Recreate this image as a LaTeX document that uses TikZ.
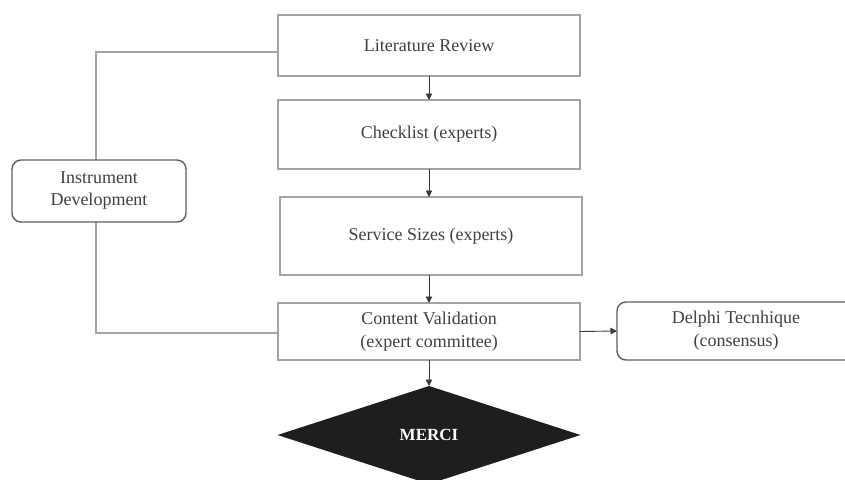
\documentclass[tikz,border=0pt]{standalone}
\usepackage{fontspec}
\setmainfont{Liberation Serif}
\usetikzlibrary{arrows.meta,shapes.geometric}

\definecolor{boxline}{HTML}{A3A3A3}
\definecolor{roundline}{HTML}{5E5E5E}
\definecolor{txt}{HTML}{404040}
\definecolor{arrline}{HTML}{3A3A3A}
\definecolor{dfill}{HTML}{1E1E1E}

\tikzset{
  stepbox/.style={draw=boxline, line width=1.4pt, fill=white, text=txt,
    inner sep=0pt, outer sep=0pt, align=center,
    font=\fontsize{18}{23}\selectfont},
  roundbox/.style={stepbox, draw=roundline, rounded corners=9pt},
  flow/.style={draw=arrline, line width=0.9pt, -{Triangle[length=6.5pt,width=6.5pt]}},
  link/.style={draw=boxline, line width=1.3pt},
  endmark/.style={diamond, fill=dfill, draw=none, inner sep=0pt, outer sep=0pt,
    text=white, font=\fontsize{17}{20}\selectfont\bfseries},
}

\begin{document}
\begin{tikzpicture}[x=1pt,y=-1pt]
  \useasboundingbox (0,0) rectangle (845,479);
  \clip (0,0) rectangle (845,479);
  \fill[white] (0,0) rectangle (845,479);

  % main column
  \node[stepbox, minimum width=302pt, minimum height=61pt] (lit)   at (429,45.5)  {Literature Review};
  \node[stepbox, minimum width=302pt, minimum height=69pt] (check) at (429,134.5) {Checklist (experts)};
  \node[stepbox, minimum width=302pt, minimum height=78pt] (serv)  at (431,236)   {Service Sizes (experts)};
  \node[stepbox, minimum width=302pt, minimum height=57pt] (cv)    at (429,331.5) {Content Validation\\(expert committee)};

  % side boxes
  \node[roundbox, minimum width=238pt, minimum height=58pt] (delphi) at (736,331) {Delphi Tecnhique\\(consensus)};

  % final outcome
  \node[endmark, minimum width=303pt, minimum height=98pt] (merci) at (429,435) {MERCI};

  % bracket linking the development phase
  \draw[link] ([yshift=-6.5pt]lit.west) -| (96,191) |- ([yshift=-1.5pt]cv.west);
  \node[roundbox, minimum width=174pt, minimum height=62pt,
        font=\fontsize{18}{22}\selectfont] (instr) at (99,191) {Instrument\\Development};

  % flow arrows
  \draw[flow] (lit.south) -- (check.north);
  \draw[flow] (check.south) -- (check.south |- serv.north);
  \draw[flow] (cv.north |- serv.south) -- (cv.north);
  \draw[flow] (cv.south) -- (merci.north);
  \draw[flow] (cv.east) -- (delphi.west);
\end{tikzpicture}
\end{document}
